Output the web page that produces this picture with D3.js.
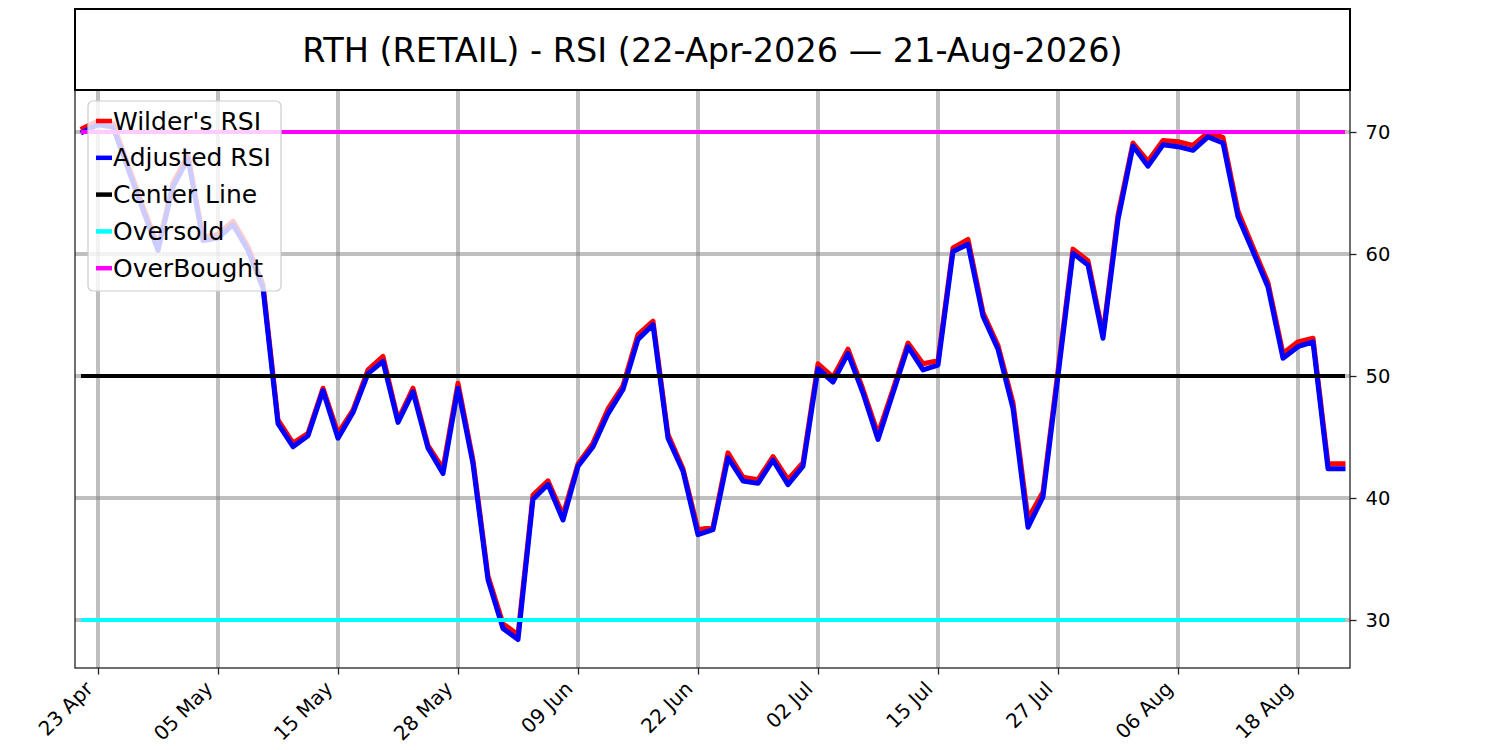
<!DOCTYPE html>
<html><head><meta charset="utf-8">
<script src="https://cdn.jsdelivr.net/npm/d3@7"></script>
<style>body{margin:0;background:#fff} text{font-family:"DejaVu Sans",sans-serif;fill:#000}</style>
</head><body><svg id="c" width="1500" height="750"></svg>
<script>
const wilder=[70.3,70.9,70.7,67.3,63.9,60.6,65.8,68.1,61.4,61.6,62.7,60.6,57.5,46.4,44.5,45.3,49.0,45.3,47.2,50.5,
51.6,46.4,49.0,44.3,42.4,49.4,43.1,33.6,29.7,28.8,40.25,41.4,38.6,42.8,44.5,47.3,49.2,53.4,54.5,45.2,
42.4,37.4,37.6,43.7,41.7,41.5,43.4,41.5,42.9,51.0,49.9,52.2,48.9,45.25,48.9,52.7,51.0,51.25,60.5,61.2,
55.2,52.5,47.8,38.3,40.5,50.4,60.4,59.45,53.4,63.2,69.1,67.6,69.3,69.2,68.9,69.95,69.55,63.5,60.55,57.65,
51.85,52.8,53.1,42.8,42.8];
const adjusted=[70.0,70.6,70.4,67.0,63.6,60.3,65.5,67.8,61.1,61.3,62.4,60.3,57.2,46.1,44.2,45.1,48.8,44.9,47.0,50.2,
51.2,46.2,48.7,44.1,42.0,49.0,42.8,33.3,29.3,28.4,39.9,41.1,38.2,42.6,44.2,46.9,48.9,53.0,54.2,44.9,
42.2,37.0,37.4,43.3,41.4,41.2,43.1,41.1,42.6,50.6,49.5,51.85,48.6,44.8,48.6,52.4,50.5,50.9,60.2,60.8,
54.9,52.2,47.35,37.6,40.1,50.0,60.05,59.1,53.1,62.8,68.85,67.2,68.95,68.8,68.5,69.6,69.1,63.05,60.2,57.3,
51.45,52.4,52.8,42.4,42.4];
const xTickIndex=[1,9,17,25,33,41,49,57,65,73,81];
const xTickLabels=["23 Apr","05 May","15 May","28 May","09 Jun","22 Jun","02 Jul","15 Jul","27 Jul","06 Aug","18 Aug"];
const yTicks=[30,40,50,60,70];
const levelNames=["Center Line","Oversold","OverBought"];
const levelValues=[50,30,70];
const levelColors=["#000000","#00ffff","#ff00ff"];
const seriesNames=["Wilder's RSI","Adjusted RSI"];
const seriesColors=["#ff0000","#0000ff"];
const titleText="RTH (RETAIL) - RSI (22-Apr-2026 \u2014 21-Aug-2026)";

const svg=d3.select("#c");
const L=75,R=1350,T=90,B=668;
const n=wilder.length;
const x=d3.scaleLinear().domain([-0.533,n-1+0.467]).range([L,R]);
const y=d3.scaleLinear().domain([26.066,73.443]).range([B,T]);

// grid
const grid=svg.append("g");
grid.selectAll("line.v").data(xTickIndex).join("line")
  .attr("x1",d=>x(d)).attr("x2",d=>x(d)).attr("y1",T).attr("y2",B)
  .attr("stroke","#808080").attr("stroke-opacity",0.5).attr("stroke-width",4);
grid.selectAll("line.h").data(yTicks).join("line")
  .attr("x1",L).attr("x2",R).attr("y1",d=>y(d)).attr("y2",d=>y(d))
  .attr("stroke","#808080").attr("stroke-opacity",0.5).attr("stroke-width",4);

// series
const line=d3.line().x((d,i)=>x(i)).y(d=>y(d));
[wilder,adjusted].forEach((s,k)=>{
  svg.append("path").datum(s).attr("d",line).attr("fill","none")
    .attr("stroke",seriesColors[k]).attr("stroke-width",5)
    .attr("stroke-linejoin","round").attr("stroke-linecap","square");
});
// levels
levelValues.forEach((v,k)=>{
  svg.append("path").datum([v,v]).attr("d",d3.line().x((d,i)=>x(i*(n-1))).y(d=>y(d)))
    .attr("fill","none").attr("stroke",levelColors[k]).attr("stroke-width",4).attr("stroke-linecap","square");
});

// spines
svg.append("rect").attr("x",L).attr("y",T).attr("width",R-L).attr("height",B-T)
  .attr("fill","none").attr("stroke","#222").attr("stroke-width",1.3);
// title box
svg.append("rect").attr("x",L).attr("y",9).attr("width",R-L).attr("height",T-9)
  .attr("fill","none").attr("stroke","#000").attr("stroke-width",2);
svg.append("text").attr("x",(L+R)/2).attr("y",50).attr("text-anchor","middle")
  .attr("dominant-baseline","central").attr("font-size",33.5).text(titleText);

// y axis right
const ya=svg.append("g").attr("transform",`translate(${R},0)`)
  .call(d3.axisRight(y).tickValues(yTicks).tickSize(6.5).tickPadding(9));
ya.select(".domain").remove();
ya.selectAll("line").attr("stroke","#222").attr("stroke-width",1.3);
ya.selectAll("text").attr("font-size",19.5).attr("font-family","DejaVu Sans");

// x axis
const xa=svg.append("g").attr("transform",`translate(0,${B})`)
  .call(d3.axisBottom(x).tickValues(xTickIndex).tickFormat((d,i)=>xTickLabels[i]).tickSize(6.5));
xa.select(".domain").remove();
xa.selectAll("line").attr("stroke","#222").attr("stroke-width",1.3);
xa.selectAll("text").attr("font-size",20).attr("font-family","DejaVu Sans")
  .attr("text-anchor","end").attr("y",0).attr("dy",0)
  .attr("transform","translate(-4.5,22) rotate(-45)");

// legend
const lg=svg.append("g");
lg.append("rect").attr("x",88).attr("y",101).attr("width",193).attr("height",190).attr("rx",5)
  .attr("fill","#fff").attr("fill-opacity",0.8).attr("stroke","#cccccc").attr("stroke-width",1.2);
const entries=seriesNames.map((nm,k)=>({name:nm,color:seriesColors[k]}))
  .concat(levelNames.map((nm,k)=>({name:nm,color:levelColors[k]})));
entries.forEach((e,k)=>{
  const yy=121+36.8*k;
  lg.append("line").attr("x1",96).attr("x2",112).attr("y1",yy).attr("y2",yy)
    .attr("stroke",e.color).attr("stroke-width",4.5);
  lg.append("text").attr("x",113).attr("y",yy).attr("dominant-baseline","central")
    .attr("font-size",25).text(e.name);
});
</script></body></html>
